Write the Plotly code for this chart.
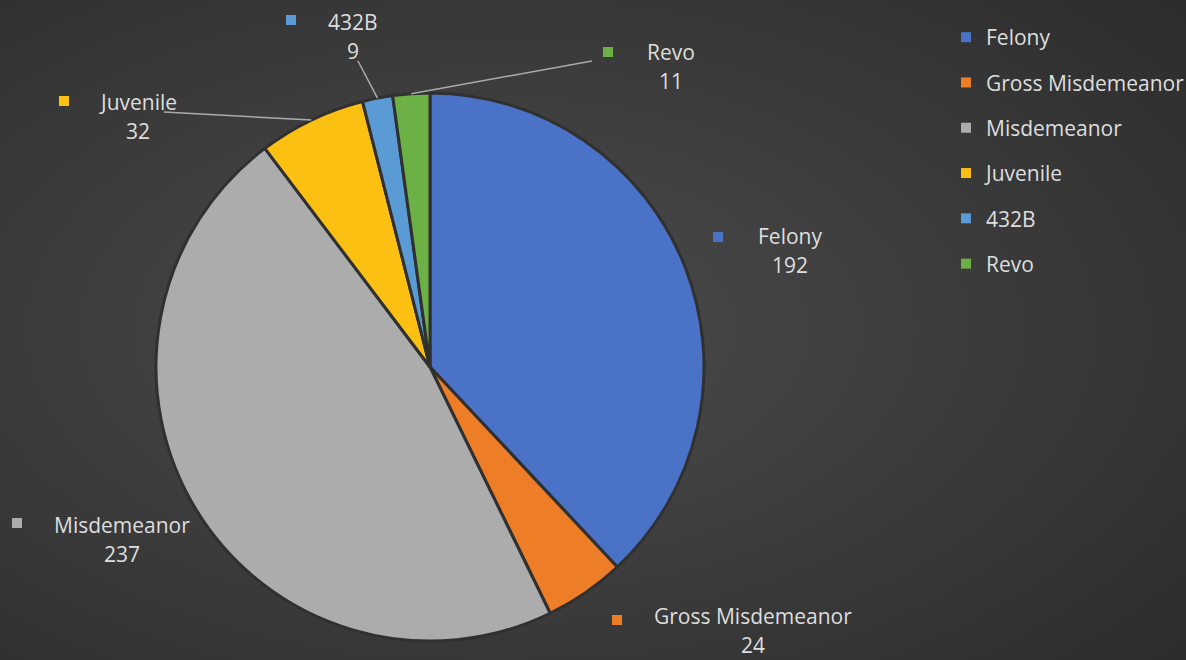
import base64
import math
import plotly.graph_objects as go

# données
categories = ["Felony", "Gross Misdemeanor", "Misdemeanor", "Juvenile", "432B", "Revo"]
counts = [192, 24, 237, 32, 9, 11]
colors = ["#4a72c6", "#ed7d27", "#acacac", "#fcc012", "#5b9bd5", "#6cb146"]

W, H = 1186, 660
CX, CY, R = 430, 367, 274          # centre / rayon du camembert (px)
TXT = "#dedede"
FONT = "Open Sans"
FS = 21

# position des étiquettes (px) : centre du texte, carré, point de départ du trait
label_pos = {
    "Felony":            dict(tx=790, ty=236, sq=(718, 237), line=None),
    "Gross Misdemeanor": dict(tx=753, ty=616, sq=(617, 620), line=None),
    "Misdemeanor":       dict(tx=122, ty=525, sq=(17, 523), line=None),
    "Juvenile":          dict(tx=138, ty=102, sq=(64, 101), line=(164, 112)),
    "432B":              dict(tx=353, ty=22, sq=(291, 20), line=(358, 61)),
    "Revo":              dict(tx=671, ty=52, sq=(608, 52), line=(592, 61)),
}


def px2paper(x, y):
    return x / W, 1 - y / H


fig = go.Figure()

# camembert
x0, y0 = px2paper(CX - R, CY + R)
x1, y1 = px2paper(CX + R, CY - R)
fig.add_trace(go.Pie(
    labels=categories, values=counts, sort=False, direction="clockwise",
    marker=dict(colors=colors, line=dict(color="#303030", width=3)),
    textinfo="none", hoverinfo="label+value", showlegend=False,
    domain=dict(x=[x0, x1], y=[y0, y1]),
))

# légende (traces fantômes pour pouvoir espacer les entrées)
for i, (cat, col) in enumerate(zip(categories, colors)):
    fig.add_trace(go.Scatter(
        x=[None], y=[None], mode="markers", name=cat, legendgroup=f"g{i}",
        marker=dict(symbol="square", size=10, color=col),
    ))

annotations, shapes = [], []
total = sum(counts)
cum = 0
for cat, val, col in zip(categories, counts, colors):
    mid = (cum + val / 2) / total * 2 * math.pi
    cum += val
    p = label_pos[cat]
    ax, ay = px2paper(p["tx"], p["ty"])
    annotations.append(dict(x=ax, y=ay, xref="paper", yref="paper", text=cat,
                            showarrow=False, xanchor="center", yanchor="middle",
                            font=dict(family=FONT, size=FS, color=TXT)))
    bx, by = px2paper(p["tx"], p["ty"] + 29)
    annotations.append(dict(x=bx, y=by, xref="paper", yref="paper", text=str(val),
                            showarrow=False, xanchor="center", yanchor="middle",
                            font=dict(family=FONT, size=FS, color=TXT)))
    sx, sy = p["sq"]
    shapes.append(dict(type="rect", xref="paper", yref="paper",
                       x0=(sx - 5) / W, x1=(sx + 5) / W,
                       y0=1 - (sy + 5) / H, y1=1 - (sy - 5) / H,
                       fillcolor=col, line=dict(width=0)))
    if p["line"] is not None:
        ex = CX + R * math.sin(mid)
        ey = CY - R * math.cos(mid)
        lx, ly = p["line"]
        shapes.append(dict(type="line", xref="paper", yref="paper",
                           x0=lx / W, y0=1 - ly / H, x1=ex / W, y1=1 - ey / H,
                           line=dict(color="#ababab", width=1.5)))

# fond en dégradé radial
svg = (
    f'<svg xmlns="http://www.w3.org/2000/svg" width="{W}" height="{H}" '
    'preserveAspectRatio="none"><defs><radialGradient id="g" cx="0.42" cy="0.5" r="0.75">'
    '<stop offset="0" stop-color="#4c4c4c"/><stop offset="1" stop-color="#2d2d2d"/>'
    f'</radialGradient></defs><rect width="{W}" height="{H}" fill="url(#g)"/></svg>'
)
bg = "data:image/svg+xml;base64," + base64.b64encode(svg.encode()).decode()

fig.update_layout(
    width=W, height=H,
    margin=dict(l=0, r=0, t=0, b=0, autoexpand=False),
    paper_bgcolor="#3f3f3f", plot_bgcolor="rgba(0,0,0,0)",
    xaxis=dict(visible=False), yaxis=dict(visible=False),
    images=[dict(source=bg, xref="paper", yref="paper", x=0, y=1, sizex=1, sizey=1,
                 sizing="stretch", layer="below")],
    legend=dict(x=946 / W, y=1 - 17 / H, xanchor="left", yanchor="top",
                font=dict(family=FONT, size=FS, color=TXT),
                tracegroupgap=15, bgcolor="rgba(0,0,0,0)"),
    annotations=annotations, shapes=shapes,
    font=dict(family=FONT, color=TXT),
)

fig.write_html("out.html", config={"displayModeBar": False},
               post_script="document.body.style.margin='0';")
